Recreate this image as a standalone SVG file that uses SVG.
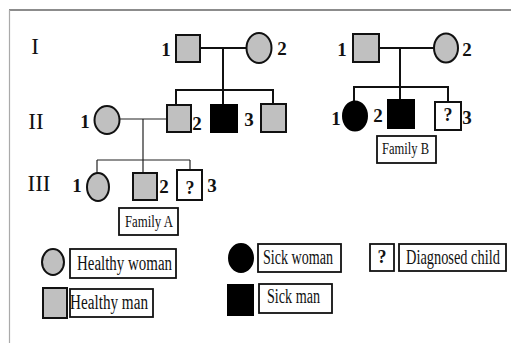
<svg xmlns="http://www.w3.org/2000/svg" width="511" height="343" viewBox="0 0 511 343">
<style>
.g{fill:#c0c0c0;stroke:#111;stroke-width:2}
.k{fill:#000;stroke:#000;stroke-width:2}
.w{fill:#fff;stroke:#111;stroke-width:2}
.b{fill:#fff;stroke:#111;stroke-width:1.8}
.ln{stroke:#111;stroke-width:2;fill:none}
.tn{stroke:#222;stroke-width:1.2;fill:none}
.num{font-family:"Liberation Serif",serif;font-weight:bold;font-size:19px;fill:#111;text-anchor:middle}
.rom{font-family:"Liberation Serif",serif;font-size:23px;fill:#111;text-anchor:middle}
.lab{font-family:"Liberation Serif",serif;font-size:20px;fill:#111}
.fam{font-family:"Liberation Serif",serif;font-size:16px;fill:#111}
.q{font-family:"Liberation Serif",serif;font-weight:bold;font-size:18px;fill:#111;text-anchor:middle}
</style>
<rect x="0" y="0" width="511" height="343" fill="#fff"/>
<g id="frame">
<line x1="9" y1="10" x2="511" y2="10" stroke="#666" stroke-width="1.5"/>
<line x1="9.5" y1="10" x2="9.5" y2="343" stroke="#aaa" stroke-width="1.2"/>
</g>
<g id="generations">
<text class="rom" x="35" y="54">I</text>
<text class="rom" x="36" y="129">II</text>
<text class="rom" x="39" y="191">III</text>
</g>
<g id="connectors">
<line class="ln" x1="200" y1="48" x2="246.5" y2="48"/>
<line class="ln" x1="223" y1="48" x2="223" y2="105"/>
<line class="ln" x1="176" y1="90" x2="273" y2="90"/>
<line class="ln" x1="176" y1="89" x2="176" y2="105"/>
<line class="ln" x1="273" y1="89" x2="273" y2="104"/>
<line class="tn" x1="119.5" y1="119" x2="167" y2="119"/>
<line class="tn" x1="143" y1="119" x2="143" y2="173"/>
<line class="tn" x1="97" y1="160" x2="190" y2="160"/>
<line class="tn" x1="97" y1="160" x2="97" y2="173"/>
<line class="tn" x1="190" y1="160" x2="190" y2="170"/>
<line class="ln" x1="379" y1="48" x2="434" y2="48"/>
<line class="ln" x1="400" y1="48" x2="400" y2="100"/>
<line class="ln" x1="354" y1="87" x2="448" y2="87"/>
<line class="ln" x1="354" y1="86" x2="354" y2="102"/>
<line class="ln" x1="448" y1="86" x2="448" y2="102"/>
</g>
<g id="A-I-1"><rect class="g" x="176" y="35" width="24" height="27"/><text class="num" x="166" y="56">1</text></g>
<g id="A-I-2"><ellipse class="g" cx="259" cy="48" rx="12.5" ry="15"/><text class="num" x="282" y="55">2</text></g>
<g id="A-II-1"><ellipse class="g" cx="107" cy="120" rx="12.5" ry="14"/><text class="num" x="85" y="128">1</text></g>
<g id="A-II-2"><rect class="g" x="167" y="105" width="24" height="27"/><text class="num" x="197" y="130">2</text></g>
<g id="A-II-3"><rect class="k" x="211" y="105" width="26" height="27"/><text class="num" x="249" y="126">3</text></g>
<g id="A-II-4"><rect class="g" x="261" y="104" width="25" height="28"/></g>
<g id="A-III-1"><ellipse class="g" cx="98" cy="187" rx="11" ry="14"/><text class="num" x="77" y="192">1</text></g>
<g id="A-III-2"><rect class="g" x="133" y="173" width="24" height="27"/><text class="num" x="164" y="193">2</text></g>
<g id="A-III-3"><rect class="w" x="177" y="170" width="25" height="30"/><text class="q" x="190" y="194">?</text><text class="num" x="212" y="192">3</text></g>
<g id="family-a"><rect class="b" x="119" y="208" width="59" height="27"/><text class="fam" x="125" y="227" textLength="48" lengthAdjust="spacingAndGlyphs">Family A</text></g>
<g id="B-I-1"><rect class="g" x="353" y="34" width="26" height="28"/><text class="num" x="342" y="56">1</text></g>
<g id="B-I-2"><ellipse class="g" cx="446" cy="48" rx="12" ry="14.5"/><text class="num" x="467" y="56">2</text></g>
<g id="B-II-1"><ellipse class="k" cx="355" cy="116" rx="12" ry="14.5"/><text class="num" x="336" y="125">1</text></g>
<g id="B-II-2"><rect class="k" x="388" y="100" width="26" height="28"/><text class="num" x="378" y="122">2</text></g>
<g id="B-II-3"><rect class="w" x="435" y="102" width="26" height="28"/><text class="q" x="448" y="121">?</text><text class="num" x="467" y="124">3</text></g>
<g id="family-b"><rect class="b" x="377" y="136" width="59" height="27"/><text class="fam" x="382" y="154" textLength="47" lengthAdjust="spacingAndGlyphs">Family B</text></g>
<g id="legend-healthy-woman"><ellipse class="g" cx="53" cy="262" rx="11" ry="13"/><rect class="b" x="70" y="249" width="106" height="29"/><text class="lab" x="77" y="270" textLength="95" lengthAdjust="spacingAndGlyphs">Healthy woman</text></g>
<g id="legend-healthy-man"><rect class="g" x="43" y="288" width="24" height="30"/><rect class="b" x="70" y="289" width="83" height="28"/><text class="lab" x="70" y="309" textLength="78" lengthAdjust="spacingAndGlyphs">Healthy man</text></g>
<g id="legend-sick-woman"><ellipse class="k" cx="241" cy="258" rx="12" ry="14"/><rect class="b" x="258" y="244" width="83" height="28"/><text class="lab" x="263" y="264" textLength="70" lengthAdjust="spacingAndGlyphs">Sick woman</text></g>
<g id="legend-sick-man"><rect class="k" x="228" y="285" width="25" height="30"/><rect class="b" x="259" y="284" width="73" height="29"/><text class="lab" x="267" y="303" textLength="53" lengthAdjust="spacingAndGlyphs">Sick man</text></g>
<g id="legend-diagnosed"><rect class="b" x="370" y="244" width="24" height="27"/><text class="q" x="382" y="263">?</text><rect class="b" x="399" y="244" width="107" height="27"/><text class="lab" transform="translate(406,264) scale(0.72,1)" x="0" y="0">Diagnosed child</text></g>
</svg>
